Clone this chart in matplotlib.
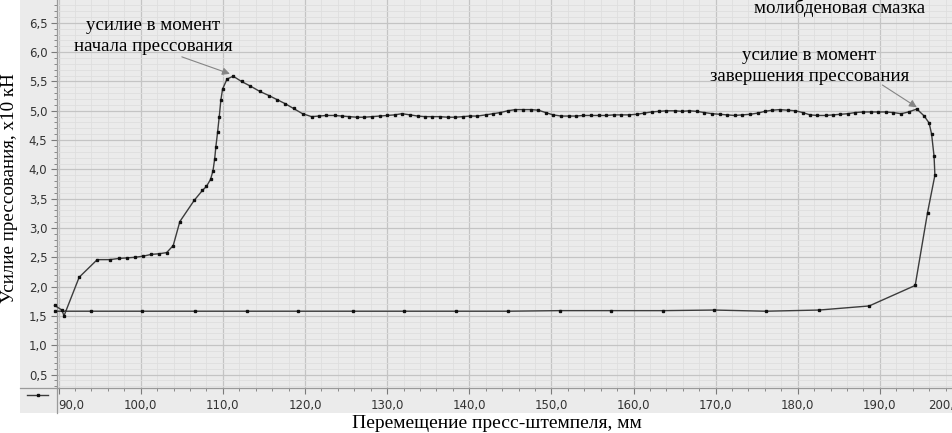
import numpy as np
import matplotlib
matplotlib.use("Agg")
import matplotlib.pyplot as plt
import matplotlib.ticker as ticker
from matplotlib.lines import Line2D
from matplotlib.patches import Rectangle

# ── Data ─────────────────────────────────────────────────────────────────────
# loading branch: from start up to the peak and down to the plateau
load_x = [89.5, 90.4, 90.65, 92.5, 94.7, 96.25, 97.3, 98.35, 99.3, 100.3, 101.3,
          102.2, 103.15, 103.95, 104.76, 106.5, 107.5, 108.0, 108.5, 108.8, 109.0,
          109.14, 109.35, 109.55, 109.75, 109.96, 110.5, 111.25, 112.27, 113.36,
          114.5, 115.6, 116.6, 117.6, 118.6, 119.7]
load_y = [1.68, 1.60, 1.50, 2.16, 2.46, 2.46, 2.48, 2.49, 2.50, 2.52, 2.55,
          2.56, 2.58, 2.70, 3.11, 3.47, 3.64, 3.71, 3.83, 3.98, 4.18,
          4.38, 4.63, 4.89, 5.18, 5.37, 5.54, 5.59, 5.50, 5.42,
          5.33, 5.26, 5.19, 5.12, 5.04, 4.95]

# steady pressing plateau
plat_x = [120.8, 121.7, 122.6, 123.6, 124.5, 125.4, 126.3, 127.2, 128.2, 129.1,
          130.0, 130.9, 131.8, 132.8, 133.7, 134.6, 135.5, 136.4, 137.4, 138.3,
          139.2, 140.1, 141.0, 142.0, 142.9, 143.8, 144.7, 145.6, 146.6, 147.5,
          148.4, 149.3, 150.2, 151.2, 152.1, 153.0, 153.9, 154.8, 155.8, 156.7,
          157.6, 158.5, 159.4, 160.4, 161.3, 162.2, 163.1, 164.0, 165.0, 165.9,
          166.8, 167.7, 168.6, 169.6, 170.5, 171.4, 172.3, 173.2, 174.2, 175.1,
          176.0, 176.9, 177.8, 178.8, 179.7, 180.6, 181.5, 182.4, 183.4, 184.3,
          185.2, 186.1, 187.0, 188.0, 188.9, 189.8, 190.7, 191.6, 192.6, 193.5,
          194.5]
plat_y = [4.90, 4.91, 4.92, 4.92, 4.91, 4.90, 4.89, 4.89, 4.90, 4.91,
          4.92, 4.93, 4.95, 4.93, 4.91, 4.90, 4.90, 4.90, 4.89, 4.89,
          4.90, 4.91, 4.91, 4.93, 4.95, 4.97, 5.00, 5.02, 5.02, 5.02,
          5.01, 4.97, 4.93, 4.91, 4.91, 4.91, 4.92, 4.92, 4.92, 4.92,
          4.93, 4.93, 4.93, 4.94, 4.96, 4.98, 4.99, 5.00, 5.00, 4.99,
          5.00, 4.99, 4.97, 4.95, 4.94, 4.93, 4.92, 4.93, 4.94, 4.96,
          4.99, 5.01, 5.02, 5.01, 5.00, 4.97, 4.93, 4.92, 4.92, 4.93,
          4.94, 4.95, 4.97, 4.98, 4.98, 4.98, 4.98, 4.97, 4.95, 4.98,
          5.03]

# unloading + return stroke
ret_x = [195.4, 196.0, 196.3, 196.6, 196.7, 195.8, 194.3, 188.7, 182.6, 176.1,
         169.85, 163.6, 157.3, 151.0, 144.7, 138.4, 132.1, 125.8, 119.2, 112.9,
         106.6, 100.2, 93.9, 89.6]
ret_y = [4.91, 4.79, 4.60, 4.22, 3.90, 3.26, 2.02, 1.67, 1.60, 1.58,
         1.60, 1.59, 1.59, 1.59, 1.58, 1.58, 1.58, 1.58, 1.58, 1.58,
         1.58, 1.58, 1.58, 1.58]

x = load_x + plat_x + ret_x
y = load_y + plat_y + ret_y

# ── Style ─────────────────────────────────────────────────────────────────────
W, H = 952, 433
BG = "#ebebeb"
SERIF = ["Liberation Serif", "DejaVu Serif"]

fig = plt.figure(figsize=(W / 100, H / 100), dpi=100)

def fx(px):
    return px / W

def fy(py):
    return 1 - py / H

# grey panel behind axes and tick area
fig.patches.append(Rectangle((fx(20), fy(413)), fx(W - 20), 413 / H,
                             transform=fig.transFigure, facecolor=BG,
                             edgecolor="none", zorder=-10))

# plot area runs slightly past the right edge of the picture (cropped screenshot)
ax = fig.add_axes([fx(57), fy(388), fx(962 - 57), 388 / H])
ax.set_facecolor(BG)
ax.set_xlim(89.8, 200.0)
ax.set_ylim(0.27, 6.89)

ax.xaxis.set_major_locator(ticker.MultipleLocator(10))
ax.xaxis.set_minor_locator(ticker.MultipleLocator(2))
ax.yaxis.set_major_locator(ticker.MultipleLocator(0.5))
ax.yaxis.set_minor_locator(ticker.MultipleLocator(0.1))
ax.xaxis.set_major_formatter(ticker.FuncFormatter(lambda v, p: f"{v:.1f}".replace(".", ",")))
ax.yaxis.set_major_formatter(ticker.FuncFormatter(lambda v, p: f"{v:.1f}".replace(".", ",")))

ax.grid(which="major", color="#c4c4c4", lw=0.9)
ax.grid(which="minor", color="#dedede", lw=0.6)
ax.set_axisbelow(True)

for s in ["top", "right"]:
    ax.spines[s].set_visible(False)
for s in ["left", "bottom"]:
    ax.spines[s].set_color("#9a9a9a")
    ax.spines[s].set_linewidth(0.9)

ax.tick_params(axis="both", which="both", color="#7a7a7a", labelsize=8.5,
               labelcolor="#333333", direction="out")
ax.tick_params(axis="both", which="major", length=4, width=0.8)
ax.tick_params(axis="both", which="minor", length=2.5, width=0.6)
ax.tick_params(axis="x", pad=4)
ax.tick_params(axis="y", pad=3)

# the curve
ax.plot(x, y, color="#3c3c3c", lw=1.0, marker="s", ms=1.8,
        mfc="#111111", mec="#111111", clip_on=False, zorder=3)

# annotations
ax.text(101.5, 6.28, "усилие в момент\nначала прессования", ha="center", va="center",
        family=SERIF, fontsize=13.6, linespacing=1.3)
ax.annotate("", xy=(110.85, 5.63), xytext=(105.0, 5.92),
            arrowprops=dict(arrowstyle="-|>", color="#858585", lw=0.8,
                            mutation_scale=11, shrinkA=0, shrinkB=0))
ax.text(181.4, 5.77, "усилие в момент\nзавершения прессования", ha="center", va="center",
        family=SERIF, fontsize=13.6, linespacing=1.3)
ax.annotate("", xy=(194.5, 5.06), xytext=(190.3, 5.44),
            arrowprops=dict(arrowstyle="-|>", color="#858585", lw=0.8,
                            mutation_scale=11, shrinkA=0, shrinkB=0))
ax.text(185.05, 6.75, "молибденовая смазка", ha="center", va="center",
        family=SERIF, fontsize=13.6)

# axis titles
fig.text(fx(497), fy(423), "Перемещение пресс-штемпеля, мм", ha="center", va="center",
         family=SERIF, fontsize=14)
fig.text(fx(10), fy(188), "Усилие прессования, x10 кН", ha="center", va="center",
         rotation=90, family=SERIF, fontsize=13.7)

# axis lines running through the grey band, legend sample
fig.add_artist(Line2D([fx(57), fx(57)], [fy(388), fy(413)], color="#9a9a9a", lw=0.9))
fig.add_artist(Line2D([fx(20), fx(57)], [fy(388), fy(388)], color="#9a9a9a", lw=0.9))
fig.add_artist(Line2D([fx(27), fx(37.5), fx(48)], [fy(395)] * 3, color="#3c3c3c", lw=1.0,
                      marker="s", ms=1.8, markevery=[1], mfc="#111111", mec="#111111"))

# first and last tick labels are pushed inside the plot area
fig.canvas.draw()
for t in ax.get_xticklabels():
    if t.get_text() == "90,0":
        t.set_ha("left")
    if t.get_text() == "200,0":
        t.set_ha("right")

fig.savefig("out.png", dpi=100)
